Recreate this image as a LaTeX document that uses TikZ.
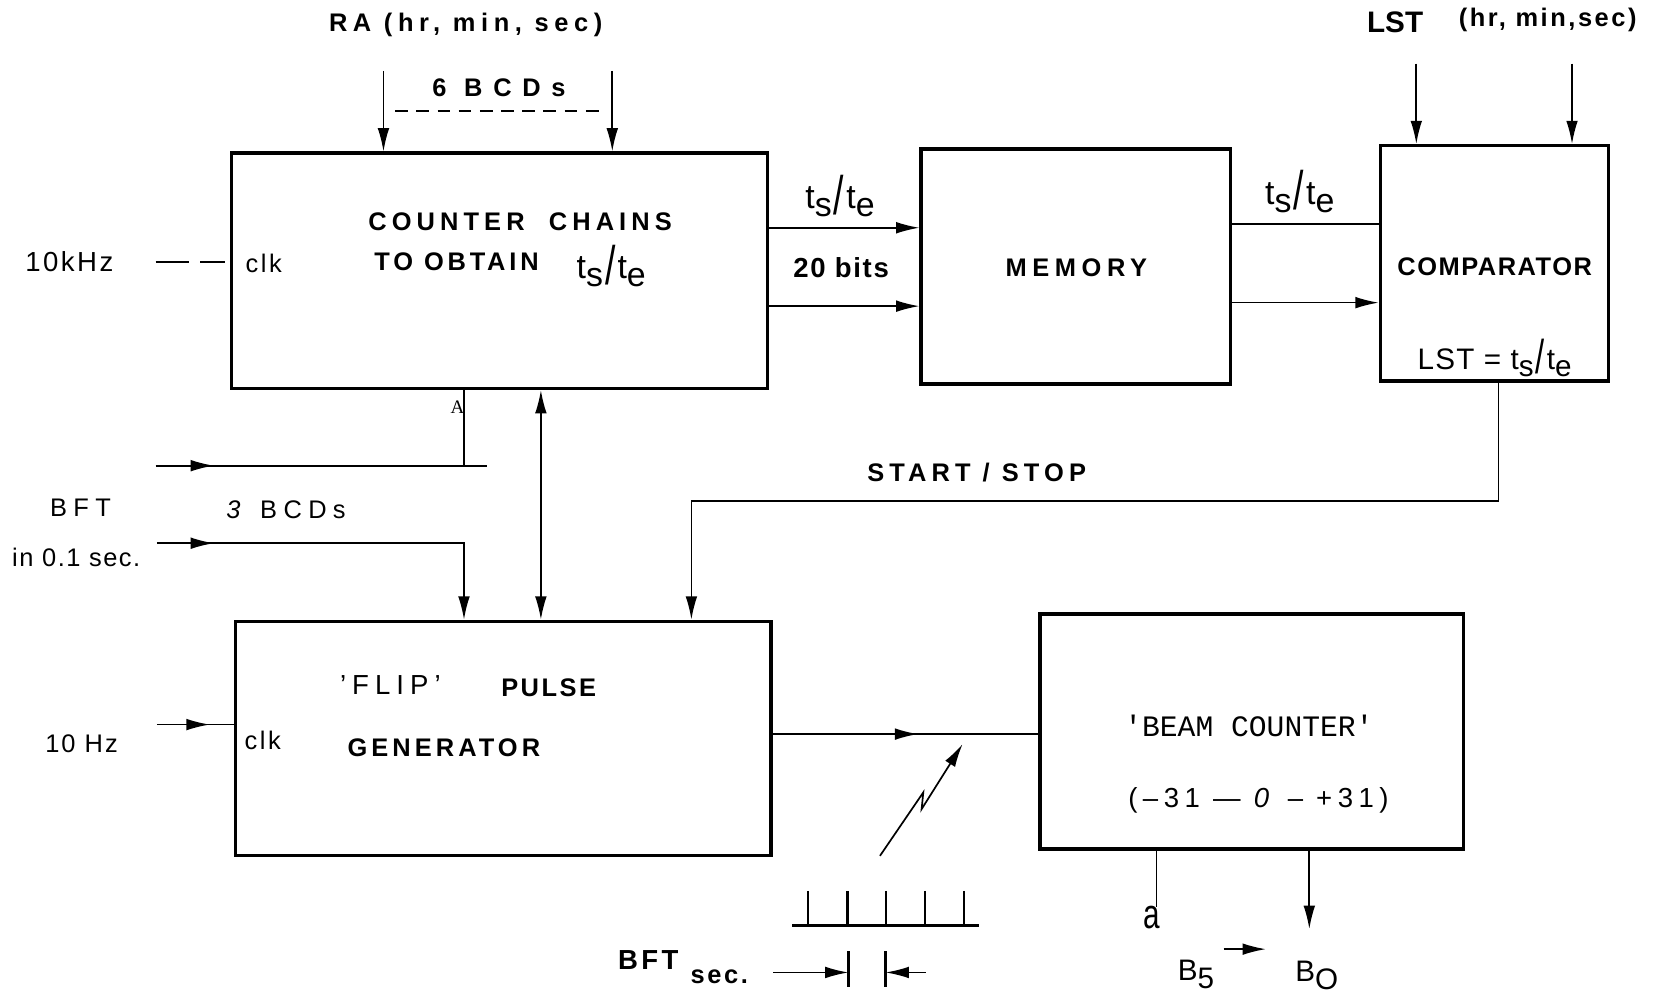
\documentclass[tikz,border=0pt]{standalone}
\usepackage{fontspec}
\usepackage{graphicx}
\setmainfont{Liberation Sans}
\newfontfamily\monoface{Liberation Mono}
\newfontfamily\serifface{Liberation Serif}
\usetikzlibrary{arrows.meta,decorations.markings}
\newcommand\fs[2]{\fontsize{#1}{#1}\selectfont\addfontfeature{LetterSpace=#2}}
\newcommand\tste{t\raisebox{-0.45ex}{s}\kern1pt\raisebox{-0.3ex}{\scalebox{1.1}[1.6]{/}}\kern1pt t\raisebox{-0.45ex}{e}}
\begin{document}
\begin{tikzpicture}[x=0.5pt,y=-0.5pt,
  box/.style={draw, line width=1.6pt, inner sep=0pt, anchor=north west},
  ln/.style={line width=0.8pt},
  tip/.style={-{Latex[length=11pt,width=5.5pt]}},
  midtip/.style={postaction={decorate,decoration={markings,mark=at position #1 with {\arrow{Latex[length=11pt,width=5.5pt]}}}}},
  txt/.style={inner sep=0pt, anchor=center}]
\useasboundingbox (0,0) rectangle (1568,937);

% boxes
\node[box, minimum width=253pt, minimum height=111pt] (cc) at (217,143) {};
\node[box, minimum width=146pt, minimum height=111pt] (mem) at (868,139) {};
\node[box, minimum width=107.75pt, minimum height=111pt] (cmp) at (1301.5,136) {};
\node[box, minimum width=252.9pt, minimum height=110.5pt] (flip) at (220.6,585) {};
\node[box, minimum width=199.75pt, minimum height=111pt] (beam) at (980.3,578) {};

% top inputs
\node[txt,font=\bfseries\fs{12}{22}] (ra) at (439.6,24) {RA (hr, min, sec)};
\node[txt,font=\bfseries\fs{12}{42}] (bcd6) at (471,83) {6 BCDs};
\coordinate (ra1) at (362,67); \coordinate (ra2) at (578,67);
\draw[ln,tip] (ra1) -- (ra1 |- cc.north);
\draw[ln,tip] (ra2) -- (ra2 |- cc.north);
\coordinate (d1) at (373,105); \coordinate (d2) at (571,105);
\draw[ln,dash pattern=on 6pt off 4pt] (d1) -- (d2);

\node[txt,font=\bfseries\fs{14}{0}] (lst) at (1317,21) {LST};
\node[txt,font=\bfseries\fs{12}{10}] (lsthr) at (1461,19) {(hr, min,sec)};
\coordinate (ls1) at (1337,60); \coordinate (ls2) at (1484,60);
\draw[ln,tip] (ls1) -- (ls1 |- cmp.north);
\draw[ln,tip] (ls2) -- (ls2 |- cmp.north);

% counter chains
\node[txt,font=\bfseries\fs{12}{20}] (t1) at (491,209) {COUNTER\ \ CHAINS};
\node[txt,font=\bfseries\fs{12}{15}] (t2) at (431,247) {TO OBTAIN};
\node[txt,font=\fs{16}{0}] (t3) at (577,251) {\tste};
\node[txt,font=\fs{12}{10}] (clk1) at (249,249) {clk};
\node[txt,font=\fs{13}{9}] (k10) at (65.5,247) {10kHz};
\coordinate (k0) at (147,247);
\draw[ln,dash pattern=on 15.5pt off 5.5pt on 11.5pt off 2.5pt] (k0) -- (k0 -| cc.west);

% cc -> memory
\draw[ln,tip] (cc.east |- 0,215) -- (mem.west |- 0,215);
\draw[ln,tip] (cc.east |- 0,289) -- (mem.west |- 0,289);
\node[txt,font=\fs{16}{0}] (l1) at (793,185) {\tste};
\node[txt,font=\bfseries\fs{13}{6}] (l2) at (794,253) {20 bits};
\node[txt,font=\bfseries\fs{12}{22}] (memt) at (1016,253) {MEMORY};

% memory -> comparator
\draw[ln] (mem.east |- 0,211.5) -- (cmp.west |- 0,211.5);
\draw[ln,tip] (mem.east |- 0,285.7) -- (cmp.west |- 0,285.7);
\node[txt,font=\fs{16}{0}] (l3) at (1227,181) {\tste};
\node[txt,font=\bfseries\fs{12}{6}] (cmpt) at (1411,252) {COMPARATOR};
\node[txt,font=\fs{14}{4}] (cmpe) at (1411,338) {LST = \tste};

% start/stop
\coordinate (s1) at (1414.6,473); \coordinate (s2) at (652.7,473);
\draw[ln,tip] (cmp.south -| s1) -- (s1) -- (s2) -- (s2 |- flip.north);
\node[txt,font=\bfseries\fs{12}{20}] (ss) at (922,446) {START / STOP};

% left inputs
\coordinate (a0) at (147,439.6); \coordinate (a1) at (460,439.6); \coordinate (a2) at (438,439.6);
\draw[ln,midtip=27.5pt] (a0) -- (a1);
\draw[ln] (a2) -- (a2 |- cc.south);
\node[txt,font=\serifface\fontsize{9}{9}\selectfont] (aa) at (432,384) {A};
\coordinate (bd) at (510.6,0);
\draw[ln,{Latex[length=11pt,width=5.5pt]}-{Latex[length=11pt,width=5.5pt]}] (cc.south -| bd) -- (flip.north -| bd);

\node[txt,font=\fs{12}{25}] (bft) at (76,479) {BFT};
\node[txt,font=\fs{12}{6}] (bft2) at (72,526) {in 0.1 sec.};
\node[txt,font=\fs{12}{25}] (bcd3) at (270,481) {\textit{3} BCDs};
\coordinate (b0) at (148,512.8); \coordinate (b1) at (438,512.8);
\draw[ln,midtip=27pt,tip] (b0) -- (b1) -- (b1 |- flip.north);

\node[txt,font=\fs{12}{8}] (hz) at (77,702) {10 Hz};
\coordinate (h0) at (148,684);
\draw[ln,midtip=25pt] (h0) -- (h0 -| flip.west);
\node[txt,font=\fs{12}{10}] (clk2) at (248,699) {clk};

% flip pulse generator
\node[txt,font=\fs{13}{22}] (f1) at (368.5,647) {'FLIP'};
\node[txt,font=\bfseries\fs{12}{10}] (f2) at (518,649) {PULSE};
\node[txt,font=\bfseries\fs{12}{16}] (f3) at (419,706) {GENERATOR};

% flip -> beam
\draw[ln,midtip=68.6pt] (flip.east |- 0,693) -- (beam.west |- 0,693);
\coordinate (z0) at (830.7,807.9); \coordinate (z1) at (871.6,748);
\coordinate (z2) at (870,763.8); \coordinate (z3) at (908.7,702.4);
\draw[ln,tip] (z0) -- (z1) -- (z2) -- (z3);

% pulse train
\coordinate (p0) at (748,874); \coordinate (p1) at (924.6,874);
\draw[line width=1.5pt] (p0) -- (p1);
\foreach \x in {762.8,800,836,873.2,910.3} \draw[line width=1pt] (\x,841) -- (\x,874);
\coordinate (q0) at (730,918); \coordinate (q1) at (801,918);
\coordinate (q2) at (836,918); \coordinate (q3) at (874,918);
\draw[ln,tip] (q0) -- (q1);
\draw[ln,tip] (q3) -- (q2);
\draw[line width=1.2pt] (801,898) -- (801,932);
\draw[line width=1.2pt] (836,898) -- (836,932);
\node[txt,font=\bfseries\fs{13}{12}] (bft3) at (612,906) {BFT};
\node[txt,font=\bfseries\fs{12}{10}] (sec) at (679,922) {sec.};

% beam counter
\node[txt,font=\monoface\fs{14}{0}] (bc1) at (1179,685) {'BEAM COUNTER'};
\node[txt,font=\fs{13}{20}] (bc2) at (1188,756) {(–31 — \textit{0} – +31)};
\coordinate (ba) at (1091.7,856); \coordinate (bb) at (1236,877);
\draw[ln] (beam.south -| ba) -- (ba);
\draw[ln,tip] (beam.south -| bb) -- (bb);
\node[txt,font=\fs{14}{0}] (aa2) at (1087,866) {\scalebox{1}[1.4]{a}};
\node[txt,font=\fs{14}{0}] (b5) at (1129,920) {B\raisebox{-0.5ex}{5}};
\node[txt,font=\fs{14}{0}] (b0t) at (1243,921) {B\raisebox{-0.5ex}{O}};
\coordinate (r0) at (1155,896); \coordinate (r1) at (1195,896);
\draw[ln,tip] (r0) -- (r1);
\end{tikzpicture}
\end{document}
